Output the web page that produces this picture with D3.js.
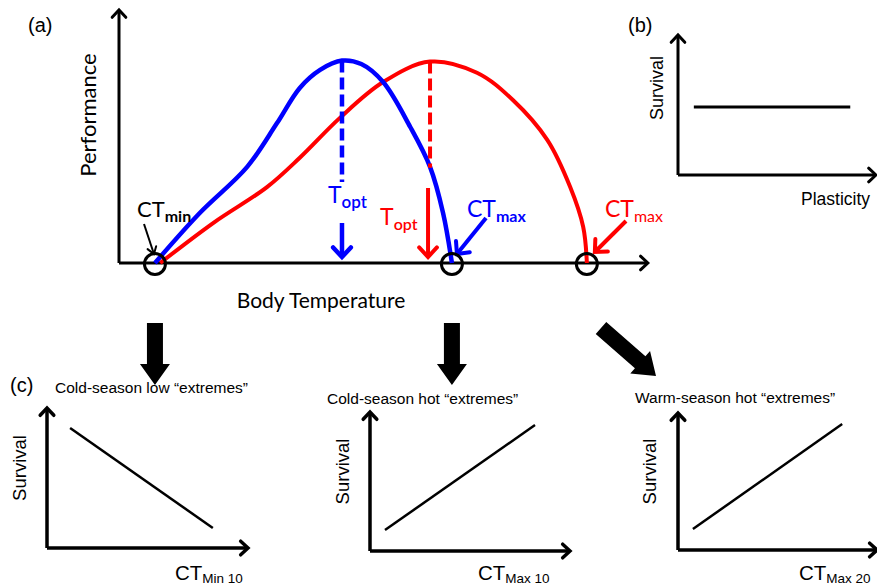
<!DOCTYPE html>
<meta charset="utf-8">
<script src="https://d3js.org/d3.v7.min.js"></script>
<style type="text/css">
    body {
        margin: 0;
        padding: 0;
        background: #fff;
    }
    svg {
        display: block;
        background-color: #FFF;
    }
    .calib {
        font-family: Lato, "Open Sans", sans-serif;
    }
    .arial {
        font-family: "Liberation Sans", Arial, sans-serif;
    }
</style>
<body>
</body>
<script>

// (a) thermal performance curves, body temperature 0-100, performance 0-1
var tempBlue = [6.9, 15.5, 24.6, 30.3, 34.7, 38.6, 42.8, 46.5, 50.7, 55.9, 59.7, 62.2, 63.9];
var perfBlue = [0, 0.247, 0.475, 0.69, 0.865, 0.954, 1.0, 0.983, 0.894, 0.672, 0.475, 0.247, 0];
var tempRed = [7.9, 18.2, 28.4, 34.7, 42.4, 50.7, 59.7, 68.7, 75.6, 82.2, 86.6, 89.1, 89.8];
var perfRed = [0, 0.2, 0.375, 0.52, 0.717, 0.894, 0.995, 0.94, 0.805, 0.608, 0.375, 0.178, 0];

var toptBlue = 42.8, toptRed = 59.7;
var ctMin = 6.9, ctMaxBlue = 63.9, ctMaxRed = 89.8;
var dashEndBlue = 0.4, dashEndRed = 0.47;

// (b) survival vs plasticity
var plasticity = [0.08, 0.87];
var survivalB = [0.486, 0.486];

// (c) survival vs thermal limits
var cTitles = ["Cold-season low \u201cextremes\u201d", "Cold-season hot \u201cextremes\u201d", "Warm-season hot \u201cextremes\u201d"];
var cSubs = ["Min 10", "Max 10", "Max 20"];
var cX = [[0.115, 0.825], [0.075, 0.825], [0.075, 0.825]];
var cY = [[0.857, 0.143], [0.151, 0.906], [0.153, 0.92]];

var width = 877, height = 587;
var BLUE = "#0000ff", RED = "#ff0000";

var svg = d3.select("body")
    .append("svg")
    .attr("width", width)
    .attr("height", height);

function openHead(g, x, y, ang, len, spread, color, w) {
    var a1 = ang + Math.PI - spread, a2 = ang + Math.PI + spread;
    var p = d3.path();
    p.moveTo(x + len * Math.cos(a1), y + len * Math.sin(a1));
    p.lineTo(x, y);
    p.lineTo(x + len * Math.cos(a2), y + len * Math.sin(a2));
    g.append("path").attr("d", p.toString())
        .attr("fill", "none").attr("stroke", color)
        .attr("stroke-width", w).attr("stroke-linejoin", "miter")
        .attr("stroke-linecap", "round");
}

function arrow(g, x1, y1, x2, y2, color, w, len, spread) {
    g.append("line").attr("x1", x1).attr("y1", y1).attr("x2", x2).attr("y2", y2)
        .attr("stroke", color).attr("stroke-width", w);
    openHead(g, x2, y2, Math.atan2(y2 - y1, x2 - x1), len, spread, color, w);
}

function blockArrow(g, x1, y1, x2, y2) {
    var L = Math.hypot(x2 - x1, y2 - y1), ang = Math.atan2(y2 - y1, x2 - x1) * 180 / Math.PI;
    var hw = 8, hh = 15, hl = 21;
    g.append("path")
        .attr("d", "M0," + (-hw) + "L" + (L - hl) + "," + (-hw) + "L" + (L - hl) + "," + (-hh) +
            "L" + L + ",0L" + (L - hl) + "," + hh + "L" + (L - hl) + "," + hw + "L0," + hw + "Z")
        .attr("fill", "#000")
        .attr("transform", "translate(" + x1 + "," + y1 + ") rotate(" + ang + ")");
}

function subLabel(g, x, y, main, sub, color, cls, size, subSize, dy, weight) {
    var t = g.append("text").attr("class", cls).attr("x", x).attr("y", y)
        .attr("fill", color).style("font-size", size + "px");
    t.append("tspan").text(main);
    t.append("tspan").attr("dy", dy).style("font-size", subSize + "px")
        .style("font-weight", weight).text(sub);
    return t;
}

// ---------- panel (a) ----------
var xA = d3.scaleLinear().domain([0, 100]).range([119, 640]);
var yA = d3.scaleLinear().domain([0, 1.25]).range([263, 10]);
var gA = svg.append("g");

arrow(gA, xA(0), yA(0), xA(0), yA(1.25), "#000", 3, 10, 0.75);
arrow(gA, xA(0), yA(0), xA(101.5), yA(0), "#000", 3, 10, 0.75);

var curve = d3.line()
    .x(function (d) { return xA(d[0]); })
    .y(function (d) { return yA(d[1]); })
    .curve(d3.curveCatmullRom.alpha(0.5));

gA.append("path").attr("d", curve(d3.zip(tempRed, perfRed)))
    .attr("fill", "none").attr("stroke", RED).attr("stroke-width", 4);
gA.append("path").attr("d", curve(d3.zip(tempBlue, perfBlue)))
    .attr("fill", "none").attr("stroke", BLUE).attr("stroke-width", 4.5);

// dashed Topt drop lines
gA.append("line").attr("x1", xA(toptBlue)).attr("x2", xA(toptBlue))
    .attr("y1", yA(1.0)).attr("y2", yA(dashEndBlue))
    .attr("stroke", BLUE).attr("stroke-width", 4.5).attr("stroke-dasharray", "12,5");
gA.append("line").attr("x1", xA(toptRed)).attr("x2", xA(toptRed))
    .attr("y1", yA(0.995)).attr("y2", yA(dashEndRed))
    .attr("stroke", RED).attr("stroke-width", 4).attr("stroke-dasharray", "12,5");

// Topt labels and arrows
subLabel(gA, xA(toptBlue) - 14, 203, "T", "opt", BLUE, "calib", 23, 17, 5, 600);
arrow(gA, xA(toptBlue), 223, xA(toptBlue), 257, BLUE, 4.5, 13, 0.75);
subLabel(gA, xA(toptRed) - 50, 225, "T", "opt", RED, "calib", 23, 16, 5, 600);
arrow(gA, xA(toptRed) - 2, 188, xA(toptRed) - 2, 257, RED, 4, 13, 0.75);

// CTmax labels and arrows
subLabel(gA, 467, 217, "CT", "max", BLUE, "calib", 23, 16, 5, 700);
arrow(gA, 486, 218, xA(ctMaxBlue) + 5, 254, BLUE, 4, 13, 0.75);
subLabel(gA, 605, 217, "CT", "max", RED, "calib", 23, 16, 5, 400);
arrow(gA, 626, 221, xA(ctMaxRed) + 8, 252, RED, 4, 13, 0.75);

// CTmin label
subLabel(gA, 137, 217, "CT", "min", "#000", "calib", 22, 16, 5, 700);
arrow(gA, 144, 224, xA(ctMin) - 1, 254, "#000", 2, 8, 0.6);

// critical limit circles
[ctMin, ctMaxBlue, ctMaxRed].forEach(function (t) {
    gA.append("circle").attr("cx", xA(t)).attr("cy", yA(0) + 1).attr("r", 10.5)
        .attr("fill", "none").attr("stroke", "#000").attr("stroke-width", 3);
});

gA.append("text").attr("class", "calib").attr("x", 321).attr("y", 308)
    .attr("text-anchor", "middle").style("font-size", "21px").text("Body Temperature");
gA.append("text").attr("class", "calib")
    .attr("transform", "translate(96,115) rotate(-90)")
    .attr("text-anchor", "middle").style("font-size", "22px").text("Performance");
gA.append("text").attr("class", "arial").attr("x", 28).attr("y", 32)
    .style("font-size", "20px").text("(a)");

// ---------- panel (b) ----------
var xB = d3.scaleLinear().domain([0, 1]).range([678, 876]);
var yB = d3.scaleLinear().domain([0, 1]).range([175, 35]);
var gB = svg.append("g");
arrow(gB, xB(0), yB(0), xB(0), yB(1), "#000", 3, 10, 0.75);
arrow(gB, xB(0), yB(0), xB(1), yB(0), "#000", 3, 10, 0.75);
gB.append("path")
    .attr("d", d3.line().x(function (d) { return xB(d[0]); }).y(function (d) { return yB(d[1]); })(d3.zip(plasticity, survivalB)))
    .attr("stroke", "#000").attr("stroke-width", 3);
gB.append("text").attr("class", "arial").attr("x", 628).attr("y", 32)
    .style("font-size", "20px").text("(b)");
gB.append("text").attr("class", "arial").attr("transform", "translate(663,88) rotate(-90)")
    .attr("text-anchor", "middle").style("font-size", "18px").text("Survival");
gB.append("text").attr("class", "arial").attr("x", 801).attr("y", 205)
    .style("font-size", "17.5px").text("Plasticity");

// ---------- block arrows ----------
var gArr = svg.append("g");
blockArrow(gArr, xA(ctMin), 323, xA(ctMin), 385);
blockArrow(gArr, xA(ctMaxBlue), 323, xA(ctMaxBlue), 385);
blockArrow(gArr, 601, 328, 656, 376);

// ---------- panel (c) ----------
var cPanels = [
    { ox: 47, oy: 548, w: 201, h: 140, tx: 55, ty: 393, lx: 26, xl: 175 },
    { ox: 370, oy: 551, w: 200, h: 139, tx: 327, ty: 404, lx: 349, xl: 478 },
    { ox: 678, oy: 550, w: 199, h: 137, tx: 635, ty: 403, lx: 656, xl: 799 }
];
cPanels.forEach(function (p, i) {
    var g = svg.append("g");
    var x = d3.scaleLinear().domain([0, 1]).range([p.ox, p.ox + p.w]);
    var y = d3.scaleLinear().domain([0, 1]).range([p.oy, p.oy - p.h]);
    arrow(g, x(0), y(0), x(0), y(1), "#000", 3.5, 10, 0.75);
    arrow(g, x(0), y(0), x(1), y(0), "#000", 3.5, 10, 0.75);
    g.append("line").attr("x1", x(cX[i][0])).attr("y1", y(cY[i][0]))
        .attr("x2", x(cX[i][1])).attr("y2", y(cY[i][1]))
        .attr("stroke", "#000").attr("stroke-width", 2.5);
    g.append("text").attr("class", "arial").attr("x", p.tx).attr("y", p.ty)
        .style("font-size", "15.5px").text(cTitles[i]);
    g.append("text").attr("class", "arial")
        .attr("transform", "translate(" + p.lx + "," + (p.oy - p.h / 2 - 10) + ") rotate(-90)")
        .attr("text-anchor", "middle").style("font-size", "18.5px").text("Survival");
    subLabel(g, p.xl, 580, "CT", cSubs[i], "#000", "arial", 20.5, 13.5, 3, 400);
});
svg.append("text").attr("class", "arial").attr("x", 10).attr("y", 392)
    .style("font-size", "20px").text("(c)");

</script>
